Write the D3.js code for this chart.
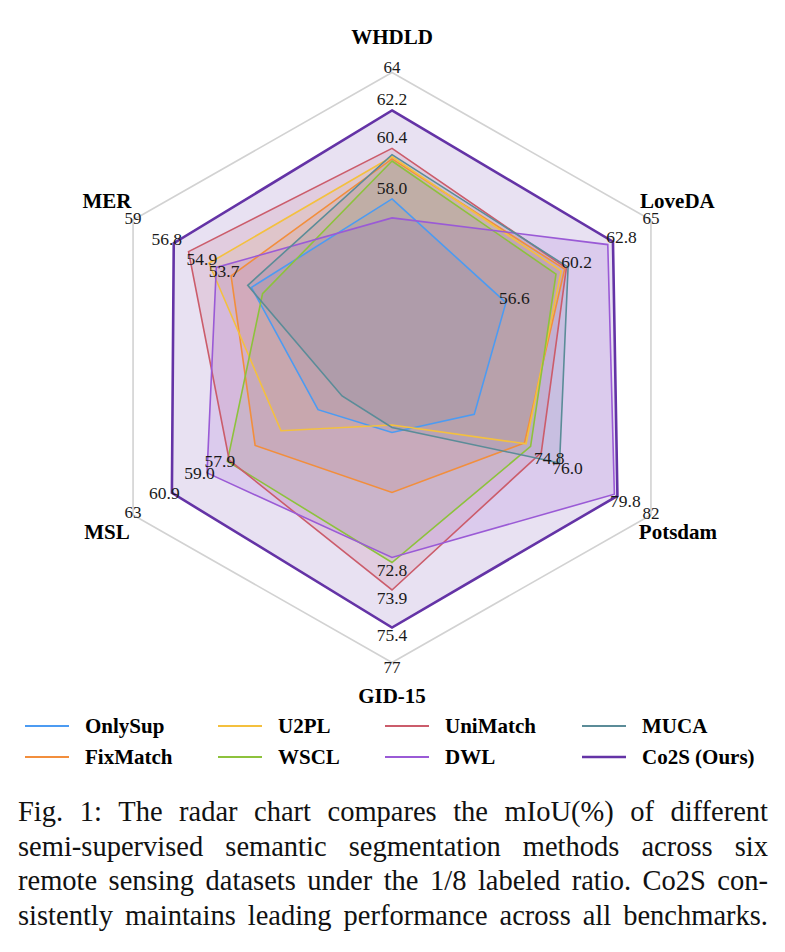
<!DOCTYPE html>
<html>
<head>
<meta charset="utf-8">
<script src="https://cdn.jsdelivr.net/npm/d3@7"></script>
<style>
  body { margin: 0; background: #fff; }
  svg { display: block; }
  text { font-family: "Liberation Serif", serif; }
</style>
</head>
<body>
<div id="chart"></div>
<script>
// axes, clockwise from the top
var axes = ["WHDLD", "LoveDA", "Potsdam", "GID-15", "MSL", "MER"];
var axisMin = [50, 50, 65, 65, 49, 45];
var axisMax = [64, 65, 82, 76.8, 63, 59];
var ringLabels = ["64", "65", "82", "77", "63", "59"];

var methods = ["OnlySup", "FixMatch", "U2PL", "WSCL", "UniMatch", "DWL", "MUCA", "Co2S (Ours)"];
var colors = ["#4c9bf2", "#f28e3c", "#f4c03e", "#8dc23c", "#cb5c6b", "#9a5ad6", "#5b8c98", "#6433a6"];

var onlySup  = [58.0, 56.6, 70.4, 67.6, 53.0, 52.6];
var fixMatch = [59.9, 60.0, 73.7, 70.0, 56.4, 53.7];
var u2pl     = [60.0, 59.8, 73.8, 67.3, 55.0, 54.9];
var wscl     = [59.8, 59.5, 74.1, 72.8, 57.9, 52.0];
var uniMatch = [60.4, 60.1, 74.8, 73.9, 57.8, 56.0];
var dwl      = [57.1, 62.5, 79.6, 72.6, 59.0, 54.5];
var muca     = [60.1, 60.2, 76.0, 67.4, 51.7, 52.8];
var co2s     = [62.2, 62.8, 79.8, 75.4, 60.9, 56.8];
var series = [onlySup, fixMatch, u2pl, wscl, uniMatch, dwl, muca, co2s];

// values written next to the points on each axis
var annotated = [
  [62.2, 60.4, 58.0],
  [62.8, 60.2, 56.6],
  [79.8, 76.0, 74.8],
  [75.4, 73.9, 72.8],
  [60.9, 59.0, 57.9],
  [56.8, 54.9, 53.7]
];

var caption = [
  "Fig. 1: The radar chart compares the mIoU(%) of different",
  "semi-supervised semantic segmentation methods across six",
  "remote sensing datasets under the 1/8 labeled ratio. Co2S con-",
  "sistently maintains leading performance across all benchmarks."
];

var width = 785, height = 952;
var cx = 392, cy = 367.5, Rx = 299, Ry = 295;
var serif = "'Liberation Serif', serif";

var svg = d3.select("#chart").append("svg")
    .attr("width", width)
    .attr("height", height);

var angle = d3.scaleLinear().domain([0, axes.length]).range([0, 2 * Math.PI]);
var scales = axes.map(function(a, i) {
  return d3.scaleLinear().domain([axisMin[i], axisMax[i]]).range([0, 1]);
});

function pt(i, f) {
  var a = angle(i);
  return [cx + Rx * f * Math.sin(a), cy - Ry * f * Math.cos(a)];
}
function valuePt(i, v) { return pt(i, scales[i](v)); }

var line = d3.line().curve(d3.curveLinearClosed);
function shape(s) { return line(s.map(function(v, i) { return valuePt(i, v); })); }

// outer ring
svg.append("path")
  .attr("d", line(axes.map(function(a, i) { return pt(i, 1); })))
  .attr("fill", "none")
  .attr("stroke", "#d2d2d2")
  .attr("stroke-width", 1.6);

// fills first, outlines on top
svg.append("g").selectAll("path")
  .data(series)
  .enter().append("path")
    .attr("d", shape)
    .attr("fill", function(s, k) { return colors[k]; })
    .attr("fill-opacity", 0.15)
    .attr("stroke", "none");

svg.append("g").selectAll("path")
  .data(series)
  .enter().append("path")
    .attr("d", shape)
    .attr("fill", "none")
    .attr("stroke", function(s, k) { return colors[k]; })
    .attr("stroke-width", function(s, k) { return k == series.length - 1 ? 2.6 : 1.6; })
    .attr("stroke-linejoin", "miter");

// value labels
var labelOff = [[0, -5], [8.5, 1], [8, 11], [0, 13.5], [-7.5, 6], [-7, 1.5]];
axes.forEach(function(a, i) {
  annotated[i].forEach(function(v) {
    var p = valuePt(i, v);
    svg.append("text")
      .attr("x", p[0] + labelOff[i][0])
      .attr("y", p[1] + labelOff[i][1])
      .attr("text-anchor", "middle")
      .attr("font-family", serif)
      .attr("font-size", "17.5px")
      .attr("fill", "#1a1a1a")
      .text(v.toFixed(1));
  });
});

// ring max labels
var ringOff = [[0, 0], [0, 4], [0, 3.5], [0, 10], [0, 3], [0, 4]];
axes.forEach(function(a, i) {
  var p = pt(i, 1);
  svg.append("text")
    .attr("x", p[0] + ringOff[i][0])
    .attr("y", p[1] + ringOff[i][1])
    .attr("text-anchor", "middle")
    .attr("font-family", serif)
    .attr("font-size", "17px")
    .attr("fill", "#1a1a1a")
    .text(ringLabels[i]);
});

// axis names
var nameOff = [[0, -28.5], [26.5, -12], [27, 24], [0, 40.5], [-26, 24], [-26, -12]];
axes.forEach(function(a, i) {
  var p = pt(i, 1);
  svg.append("text")
    .attr("x", p[0] + nameOff[i][0])
    .attr("y", p[1] + nameOff[i][1])
    .attr("text-anchor", "middle")
    .attr("font-family", serif)
    .attr("font-size", "21px")
    .attr("font-weight", "bold")
    .attr("fill", "#000")
    .text(a);
});

// legend, filled column by column
var legX = [25, 218, 385, 582], legY = [726, 757];
var leg = svg.append("g").selectAll("g")
  .data(methods)
  .enter().append("g")
    .attr("transform", function(d, k) {
      return "translate(" + legX[Math.floor(k / 2)] + "," + legY[k % 2] + ")";
    });
leg.append("line")
  .attr("x1", 0).attr("x2", 44)
  .attr("stroke", function(d, k) { return colors[k]; })
  .attr("stroke-width", function(d, k) { return k == methods.length - 1 ? 2.6 : 2; });
leg.append("text")
  .attr("x", 60)
  .attr("y", 7)
  .attr("font-family", serif)
  .attr("font-size", "21px")
  .attr("font-weight", "bold")
  .text(function(d) { return d; });

// caption, justified by spreading the word gaps
var capLeft = 18, capWidth = 750;
caption.forEach(function(row, k) {
  var words = row.split(" ");
  var g = svg.append("g");
  var nodes = words.map(function(w) {
    return g.append("text")
      .attr("y", 821 + k * 34.6)
      .attr("font-family", serif)
      .attr("font-size", "28.5px")
      .attr("fill", "#111")
      .text(w);
  });
  var widths = nodes.map(function(n) { return n.node().getComputedTextLength(); });
  var gap = (capWidth - d3.sum(widths)) / (words.length - 1);
  var x = capLeft;
  nodes.forEach(function(n, j) {
    n.attr("x", x);
    x += widths[j] + gap;
  });
});
</script>
</body>
</html>
